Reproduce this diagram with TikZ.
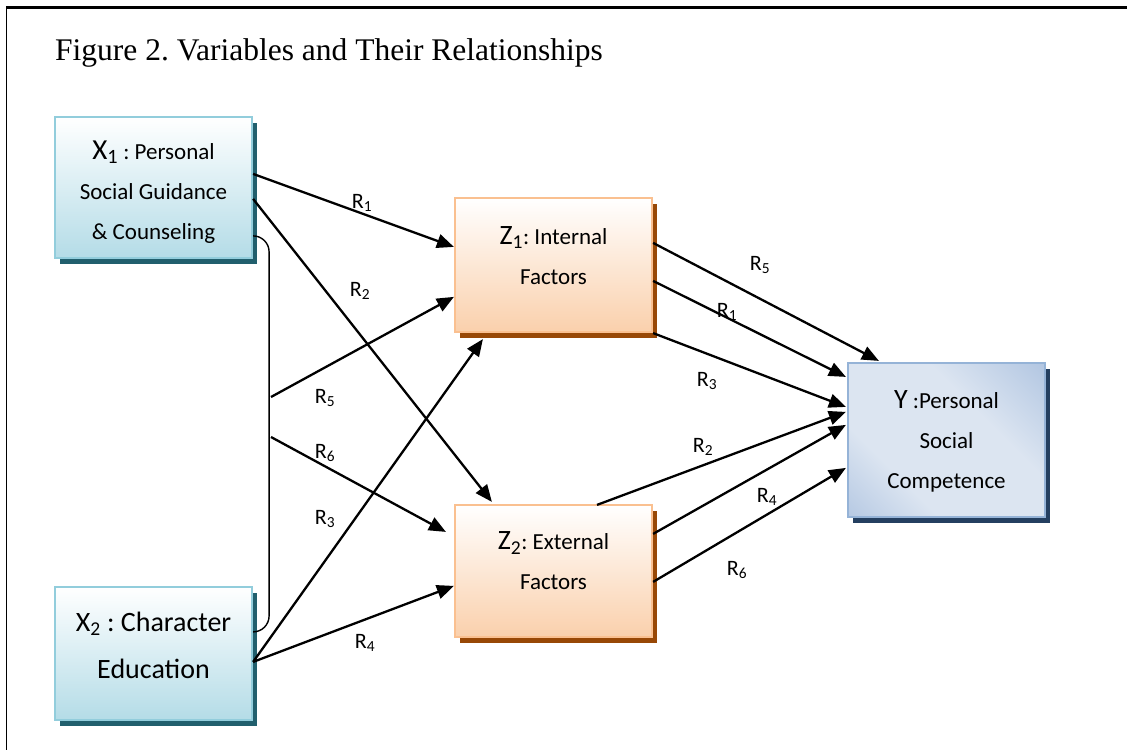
\documentclass[tikz,border=0pt]{standalone}
\usepackage{fontspec}
\setmainfont{Liberation Serif}
\newfontfamily\carl{Carlito}
\usetikzlibrary{arrows.meta,shadows}
\definecolor{xbord}{HTML}{92CDDC}
\definecolor{xfill}{HTML}{B4DCE7}
\definecolor{xshad}{HTML}{215F6D}
\definecolor{zbord}{HTML}{FAC090}
\definecolor{zfill}{HTML}{FAD0AC}
\definecolor{zshad}{HTML}{984806}
\definecolor{ybord}{HTML}{95B3D7}
\definecolor{yin}{HTML}{DCE5F1}
\definecolor{yout}{HTML}{98B3D8}
\definecolor{yshad}{HTML}{243F60}
\pgfdeclarehorizontalshading{ymirror}{100bp}{color(0bp)=(yout); color(33bp)=(yin); color(62bp)=(yin); color(100bp)=(yout)}
\frenchspacing
\begin{document}
\begin{tikzpicture}[x=1pt,y=-1pt,
  box/.style={rectangle, minimum width=197pt, inner sep=0pt, line width=2.2pt},
  xbox/.style={box, draw=xbord, top color=white, bottom color=xfill,
    general shadow={fill=xshad, shadow xshift=5pt, shadow yshift=-6pt}},
  zbox/.style={box, draw=zbord, top color=white, bottom color=zfill,
    general shadow={fill=zshad, shadow xshift=5pt, shadow yshift=-6pt}},
  ybox/.style={box, draw=ybord, shading=ymirror, shading angle=45,
    general shadow={fill=yshad, shadow xshift=5pt, shadow yshift=-6pt}},
  btext/.style={align=center, inner sep=0pt, font=\carl\fontsize{23}{40}\selectfont},
  arr/.style={line width=2.3pt, -{Triangle[length=17pt,width=14pt]}},
  lab/.style={inner sep=0pt, font=\carl\fontsize{22}{22}\selectfont},
  brk/.style={line width=1.4pt, rounded corners=16pt}
]
\useasboundingbox (0,0) rectangle (1127,750);
% frame
\draw[line width=2.5pt] (6,7.5) -- (1127,7.5);
\draw[line width=1.5pt] (6.5,6.5) -- (6.5,750);
\node[anchor=base west, inner sep=0pt, font=\fontsize{31.5}{31.5}\selectfont] (title) at (55,60) {Figure 2. Variables and Their Relationships};
% boxes
\node[xbox, minimum height=141pt] (X1) at (153.5,187.5) {};
\node[xbox, minimum height=133pt] (X2) at (153.5,653.5) {};
\node[zbox, minimum height=134pt] (Z1) at (553.5,265) {};
\node[zbox, minimum height=132pt] (Z2) at (553.5,571) {};
\node[ybox, minimum height=154pt] (Y) at (946.5,440) {};
% box texts
\node[btext] (X1t) at (153.5,192) {{\fontsize{29}{29}\selectfont X\textsubscript{1}} : Personal\\Social Guidance\\\& Counseling};
\node[btext, font=\carl\fontsize{28}{47}\selectfont] (X2t) at (153.5,645) {X\textsubscript{2} : Character\\Education};
\node[btext] (Z1t) at (553.5,256) {{\fontsize{28}{28}\selectfont Z\textsubscript{1}}: Internal\\Factors};
\node[btext] (Z2t) at (553.5,561) {{\fontsize{28}{28}\selectfont Z\textsubscript{2}}: External\\Factors};
\node[btext] (Yt) at (946.5,441) {{\fontsize{28}{28}\selectfont Y} :Personal\\Social\\Competence};
% bracket
\draw[brk] ([yshift=-120pt]X1.north east) -- ++(16,0) |- ([yshift=-46pt]X2.north east);
\coordinate (b5) at (271,397);
\coordinate (b6) at (271,437);
% left arrows
\draw[arr] ([yshift=-58pt]X1.north east) -- ([yshift=-50pt]Z1.north west);
\draw[arr] ([yshift=-83pt]X1.north east) -- ([xshift=38pt,yshift=2pt]Z2.north west);
\draw[arr] (b5) -- ([yshift=-100pt]Z1.north west);
\draw[arr] (b6) -- ([xshift=-8pt,yshift=-28pt]Z2.north west);
\draw[arr] ([yshift=-76pt]X2.north east) -- ([xshift=29pt,yshift=-6pt]Z1.south west);
\draw[arr] ([yshift=-76pt]X2.north east) -- ([yshift=-82pt]Z2.north west);
% right arrows
\draw[arr] ([yshift=-46pt]Z1.north east) -- ([xshift=32pt,yshift=1pt]Y.north west);
\draw[arr] ([yshift=-84pt]Z1.north east) -- ([xshift=-1pt,yshift=-15pt]Y.north west);
\draw[arr] (Z1.south east) -- ([xshift=-1pt,yshift=-45pt]Y.north west);
\draw[arr] ([xshift=43.5pt,yshift=-1pt]Z2.north) -- ([xshift=-1pt,yshift=-50pt]Y.north west);
\draw[arr] ([yshift=-30pt]Z2.north east) -- ([xshift=-1pt,yshift=-63pt]Y.north west);
\draw[arr] ([yshift=-78pt]Z2.north east) -- ([xshift=-1pt,yshift=-106pt]Y.north west);
% labels
\node[lab] (l1) at (362,203) {R\textsubscript{1}};
\node[lab] (l2) at (360,291) {R\textsubscript{2}};
\node[lab] (l5) at (325,398) {R\textsubscript{5}};
\node[lab] (l6) at (325,453) {R\textsubscript{6}};
\node[lab] (l3) at (325,519) {R\textsubscript{3}};
\node[lab] (l4) at (365,643) {R\textsubscript{4}};
\node[lab] (r5) at (760,265) {R\textsubscript{5}};
\node[lab] (r1) at (727,312) {R\textsubscript{1}};
\node[lab] (r3) at (707,381) {R\textsubscript{3}};
\node[lab] (r2) at (703,447) {R\textsubscript{2}};
\node[lab] (r4) at (767,497) {R\textsubscript{4}};
\node[lab] (r6) at (737,570) {R\textsubscript{6}};
\end{tikzpicture}
\end{document}
